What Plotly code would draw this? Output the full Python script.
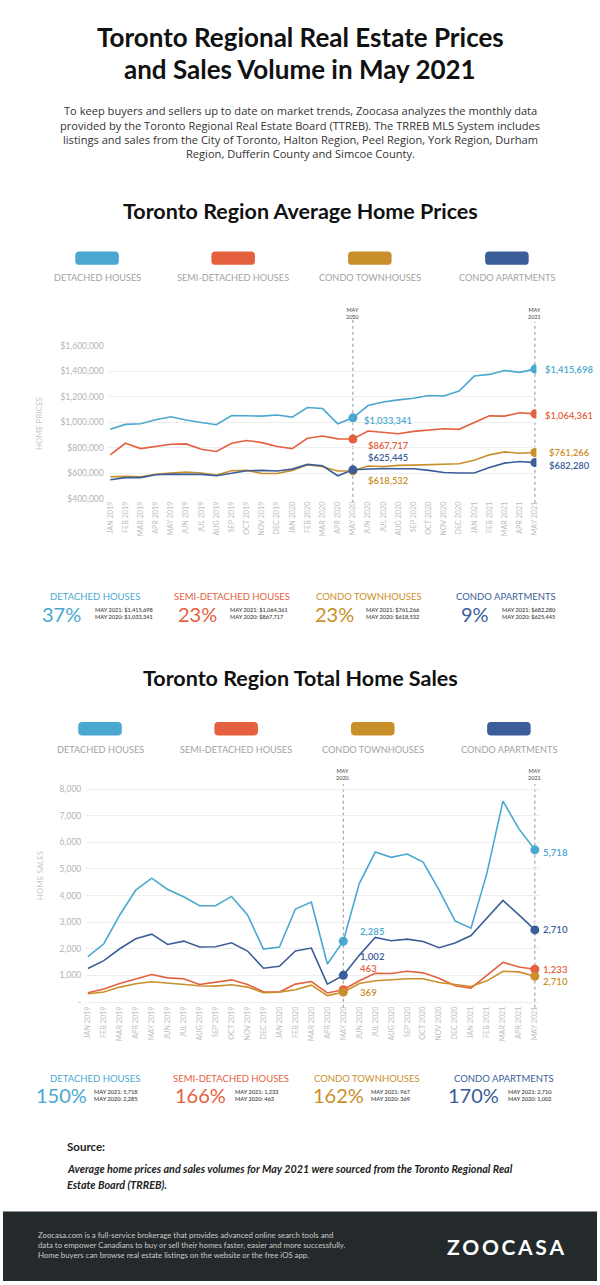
import plotly.graph_objects as go

W, H = 600, 1285

months = ["JAN 2019", "FEB 2019", "MAR 2019", "APR 2019", "MAY 2019", "JUN 2019",
          "JUL 2019", "AUG 2019", "SEP 2019", "OCT 2019", "NOV 2019", "DEC 2019",
          "JAN 2020", "FEB 2020", "MAR 2020", "APR 2020", "MAY 2020", "JUN 2020",
          "JUL 2020", "AUG 2020", "SEP 2020", "OCT 2020", "NOV 2020", "DEC 2020",
          "JAN 2021", "FEB 2021", "MAR 2021", "APR 2021", "MAY 2021"]

series_names = ["DETACHED HOUSES", "SEMI-DETACHED HOUSES", "CONDO TOWNHOUSES", "CONDO APARTMENTS"]
colors = ["#4aa8d0", "#e5603e", "#c98f2b", "#3b5e98"]

price_detached = [943000, 982000, 987000, 1018000, 1042000, 1016000, 997000, 979000, 1052000, 1052000,
                  1047000, 1055000, 1039000, 1114000, 1106000, 987000, 1033341, 1130000, 1158000, 1174000,
                  1187000, 1208000, 1205000, 1244000, 1361000, 1374000, 1405000, 1390000, 1415698]
price_semi = [743000, 834000, 792000, 810000, 826000, 829000, 787000, 769000, 834000, 855000,
              839000, 808000, 792000, 873000, 891000, 868000, 867717, 930000, 917000, 909000,
              927000, 940000, 948000, 943000, 995000, 1049000, 1047000, 1073000, 1064361]
price_town = [571000, 574000, 571000, 590000, 600000, 608000, 600000, 584000, 618000, 621000,
              597000, 597000, 621000, 665000, 649000, 616000, 618532, 655000, 652000, 660000,
              662000, 665000, 665000, 673000, 701000, 743000, 766000, 756000, 761266]
price_apt = [548000, 564000, 564000, 587000, 592000, 592000, 590000, 579000, 597000, 618000,
             621000, 616000, 631000, 668000, 657000, 579000, 625445, 631000, 636000, 634000,
             634000, 621000, 605000, 600000, 600000, 644000, 678000, 691000, 682280]

sales_detached = [1704, 2189, 3271, 4204, 4652, 4229, 3955, 3619, 3619, 3968, 3271, 1990,
                  2065, 3495, 3756, 1430, 2285, 4453, 5634, 5435, 5560, 5261, 4204, 3047,
                  2774, 4851, 7550, 6505, 5718]
sales_semi = [348, 485, 697, 871, 1032, 908, 871, 659, 746, 833, 659, 386,
              373, 672, 771, 340, 463, 796, 1082, 1070, 1157, 1095, 896, 609,
              522, 995, 1493, 1318, 1233]
sales_town = [311, 373, 560, 684, 759, 709, 684, 609, 597, 647, 560, 348,
              373, 460, 634, 240, 369, 697, 796, 846, 871, 871, 734, 659,
              585, 796, 1157, 1132, 967]
sales_apt = [1256, 1555, 2002, 2376, 2550, 2164, 2289, 2065, 2077, 2226, 1915, 1269,
             1343, 1915, 2027, 672, 1002, 1754, 2425, 2301, 2363, 2276, 2040, 2214,
             2500, 3147, 3818, 3271, 2710]

price_ticks = [400000, 600000, 800000, 1000000, 1200000, 1400000, 1600000]
price_ticktext = ["$400,000", "$600,000", "$800,000", "$1,000,000", "$1,200,000", "$1,400,000", "$1,600,000"]
sales_ticks = [0, 1000, 2000, 3000, 4000, 5000, 6000, 7000, 8000]
sales_ticktext = ["-", "1,000", "2,000", "3,000", "4,000", "5,000", "6,000", "7,000", "8,000"]

# point labels as printed on the chart
price_may20_labels = ["$1,033,341", "$867,717", "$618,532", "$625,445"]
price_may21_labels = ["$1,415,698", "$1,064,361", "$761,266", "$682,280"]
sales_may20_labels = ["2,285", "463", "369", "1,002"]
sales_may21_labels = ["5,718", "1,233", "2,710", "2,710"]

prices = [price_detached, price_semi, price_town, price_apt]
sales = [sales_detached, sales_semi, sales_town, sales_apt]
I20, I21 = months.index("MAY 2020"), months.index("MAY 2021")

FONT = "Lato"
BODY = "Open Sans"


def X(px):
    return px / W


def Y(py):
    return 1 - py / H


fig = go.Figure()

for i in range(4):
    fig.add_trace(go.Scatter(x=months, y=prices[i], mode="lines", line=dict(color=colors[i], width=1.6),
                             xaxis="x", yaxis="y", hoverinfo="skip", showlegend=False))
for i in range(4):
    fig.add_trace(go.Scatter(x=[months[I20], months[I21]], y=[prices[i][I20], prices[i][I21]], mode="markers",
                             marker=dict(color=colors[i], size=9), xaxis="x", yaxis="y",
                             hoverinfo="skip", showlegend=False))
for i in range(4):
    fig.add_trace(go.Scatter(x=months, y=sales[i], mode="lines", line=dict(color=colors[i], width=1.6),
                             xaxis="x2", yaxis="y2", hoverinfo="skip", showlegend=False))
for i in range(4):
    fig.add_trace(go.Scatter(x=[months[I20], months[I21]], y=[sales[i][I20], sales[i][I21]], mode="markers",
                             marker=dict(color=colors[i], size=9), xaxis="x2", yaxis="y2",
                             hoverinfo="skip", showlegend=False))

xax_common = dict(type="category", tickmode="array", tickvals=months, ticktext=months, tickangle=-90,
                  tickfont=dict(family=FONT, size=7.2, color="#bdbdbd"), showgrid=False, zeroline=False,
                  showline=False, ticks="", fixedrange=True)
yax_common = dict(showgrid=True, gridcolor="#eeeeee", gridwidth=1, zeroline=False, showline=False, ticks="",
                  tickfont=dict(family=FONT, size=8.5, color="#b3b3b3"), fixedrange=True, ticklabelstandoff=4)

fig.update_layout(
    width=W, height=H, margin=dict(l=0, r=0, t=0, b=0),
    paper_bgcolor="white", plot_bgcolor="white", hovermode=False, showlegend=False,
    xaxis=dict(domain=[X(106.8), X(538.8)], range=[-0.1, 28.1], anchor="y", **xax_common),
    yaxis=dict(domain=[Y(498.3), Y(343.1)], range=[395000, 1605000], tickmode="array",
               tickvals=price_ticks, ticktext=price_ticktext, anchor="x", **yax_common),
    xaxis2=dict(domain=[X(84.1), X(542.1)], range=[-0.1, 28.3], anchor="y2", **xax_common),
    yaxis2=dict(domain=[Y(1006.4), Y(787.9)], range=[-80, 8080], tickmode="array",
                tickvals=sales_ticks, ticktext=sales_ticktext, anchor="x2", **yax_common),
)

shapes = []
annotations = []


def ann(text, x, y, size, color="#222", xanchor="center", yanchor="middle", weight=400, style="normal",
        align="center", family=FONT, **kw):
    annotations.append(dict(text=text, x=X(x), y=Y(y), xref="paper", yref="paper", showarrow=False,
                            xanchor=xanchor, yanchor=yanchor, align=align,
                            font=dict(family=family, size=size, color=color, weight=weight, style=style), **kw))


def rrect(x0, y0, x1, y1, color, r=4):
    p = (f"M {X(x0 + r)},{Y(y0)} L {X(x1 - r)},{Y(y0)} Q {X(x1)},{Y(y0)} {X(x1)},{Y(y0 + r)} "
         f"L {X(x1)},{Y(y1 - r)} Q {X(x1)},{Y(y1)} {X(x1 - r)},{Y(y1)} L {X(x0 + r)},{Y(y1)} "
         f"Q {X(x0)},{Y(y1)} {X(x0)},{Y(y1 - r)} L {X(x0)},{Y(y0 + r)} Q {X(x0)},{Y(y0)} {X(x0 + r)},{Y(y0)} Z")
    shapes.append(dict(type="path", path=p, xref="paper", yref="paper", fillcolor=color, line=dict(width=0),
                       layer="above"))


# Titles
ann("Toronto Regional Real Estate Prices", 300, 33, 26, "#111", weight=700)
ann("and Sales Volume in May 2021", 300, 65.5, 26, "#111", weight=700)
para = ["To keep buyers and sellers up to date on market trends, Zoocasa analyzes the monthly data",
        "provided by the Toronto Regional Real Estate Board (TTREB). The TRREB MLS System includes",
        "listings and sales from the City of Toronto, Halton Region, Peel Region, York Region, Durham",
        "Region, Dufferin County and Simcoe County."]
for k, line in enumerate(para):
    ann(line, 300, 107.5 + 14.4 * k, 11.1, "#333", family=BODY)
ann("Toronto Region Average Home Prices", 300, 208, 21.5, "#111", weight=700)
ann("Toronto Region Total Home Sales", 300, 678.5, 21.5, "#111", weight=700)

# Legends
price_leg_x = [95, 232.5, 370.5, 509]
sales_leg_x = [98, 235.5, 373.5, 511]
for i in range(4):
    cx = price_leg_x[i]
    rrect(cx - 22, 249, cx + 22, 262.5, colors[i])
    ann(series_names[i], cx, 275.5, 9.2, "#a3a3a3")
    cx = sales_leg_x[i]
    rrect(cx - 22, 722.5, cx + 22, 736, colors[i])
    ann(series_names[i], cx, 750, 9.2, "#a3a3a3")

# Axis titles
annotations.append(dict(text="HOME PRICES", x=X(37), y=Y(422), xref="paper", yref="paper", showarrow=False,
                        xanchor="center", yanchor="middle", textangle=-90,
                        font=dict(family=FONT, size=8, color="#c8c8c8")))
annotations.append(dict(text="HOME SALES", x=X(37), y=Y(877), xref="paper", yref="paper", showarrow=False,
                        xanchor="center", yanchor="middle", textangle=-90,
                        font=dict(family=FONT, size=8, color="#c8c8c8")))

# Vertical reference lines and their labels
for xa, top20, top21, bot, laby in [("x", 313, 320, 502, 303), ("x2", 785, 785, 1010, 775)]:
    for idx, top in [(I20, top20), (I21, top21)]:
        shapes.append(dict(type="line", xref=xa, yref="paper", x0=months[idx], x1=months[idx],
                           y0=Y(bot), y1=Y(top), line=dict(color="#777", width=0.8, dash="dot"), layer="below"))
        mon, yr = months[idx].split(" ")
        annotations.append(dict(text=f"{mon}<br>{yr}", x=months[idx], xref=xa, y=Y(laby), yref="paper",
                                showarrow=False, font=dict(family=FONT, size=5.5, color="#444")))

# Point labels
p20_shift = [(9, -3), (13, -6.5), (13, -10), (13, 12)]
p21_shift = [(8, 0), (8, -1.5), (12, 0), (12, -3)]
s20_shift = [(15, 10), (15, 21), (15, 0), (15, 18.5)]
s21_shift = [(6, -3), (6, 0), (6, -5.5), (6, 0)]
for i in range(4):
    for idx, lab, (dx, dy), xa, ya, data, fs in [
        (I20, price_may20_labels[i], p20_shift[i], "x", "y", prices, 9.4),
        (I21, price_may21_labels[i], p21_shift[i], "x", "y", prices, 9.4),
        (I20, sales_may20_labels[i], s20_shift[i], "x2", "y2", sales, 9.6),
        (I21, sales_may21_labels[i], s21_shift[i], "x2", "y2", sales, 9.6),
    ]:
        annotations.append(dict(text=lab, x=months[idx], y=data[i][idx], xref=xa, yref=ya, showarrow=False,
                                xanchor="left", yanchor="middle", xshift=dx, yshift=dy,
                                font=dict(family=FONT, size=fs, color=colors[i], weight=600)))

# Summary blocks
price_lab_x = [93, 231.5, 370, 508]
price_pct_right = [81, 218, 357, 493]
price_small_left = [91, 227, 365, 502]
sales_lab_x = [92.5, 230.5, 368, 506.5]
sales_pct_right = [86.5, 227, 366.5, 503]
sales_small_left = [90, 232.5, 370, 508.5]
for i in range(4):
    p20, p21 = prices[i][I20], prices[i][I21]
    pct = round((p21 / p20 - 1) * 100)
    ann(series_names[i], price_lab_x[i], 596, 9.5, colors[i])
    ann(f"{pct}%", price_pct_right[i], 613.5, 20, colors[i], xanchor="right")
    ann(f"MAY 2021: ${p21:,}<br>MAY 2020: ${p20:,}", price_small_left[i], 613, 5.6, "#444",
        xanchor="left", align="left", weight=600)
    s20, s21 = sales[i][I20], sales[i][I21]
    pct = round((s21 / s20 - 1) * 100)
    ann(series_names[i], sales_lab_x[i], 1081, 9.5, colors[i])
    ann(f"{pct}%", sales_pct_right[i], 1098, 20, colors[i], xanchor="right")
    ann(f"MAY 2021: {s21:,}<br>MAY 2020: {s20:,}", sales_small_left[i], 1097.5, 5.6, "#444",
        xanchor="left", align="left", weight=600)

# Source
ann("Source:", 63, 1150, 11.5, "#222", xanchor="left", weight=700)
ann("Average home prices and sales volumes for May 2021 were sourced from the Toronto Regional Real",
    63, 1172, 10.75, "#222", xanchor="left", weight=700, style="italic")
ann("Estate Board (TRREB).", 63, 1188, 10.75, "#222", xanchor="left", weight=700, style="italic")

# Footer
shapes.append(dict(type="rect", xref="paper", yref="paper", x0=0, x1=1, y0=0, y1=Y(1215),
                   fillcolor="#242a2b", line=dict(width=0), layer="below"))
ann("Zoocasa.com is a full-service brokerage that provides advanced online search tools and<br>"
    "data to empower Canadians to buy or sell their homes faster, easier and more successfully.<br>"
    "Home buyers can browse real estate listings on the website or the free iOS app.",
    33, 1249, 7.8, "#c9c9c9", xanchor="left", align="left")
ann("Z\u2009O\u2009O\u2009C\u2009A\u2009S\u2009A", 569, 1250, 21, "#ffffff", xanchor="right", weight=700)

fig.update_layout(shapes=shapes, annotations=annotations)
fig.write_html("out.html", config={"displayModeBar": False},
               post_script="document.body.style.margin='0';document.body.style.overflow='hidden';")
